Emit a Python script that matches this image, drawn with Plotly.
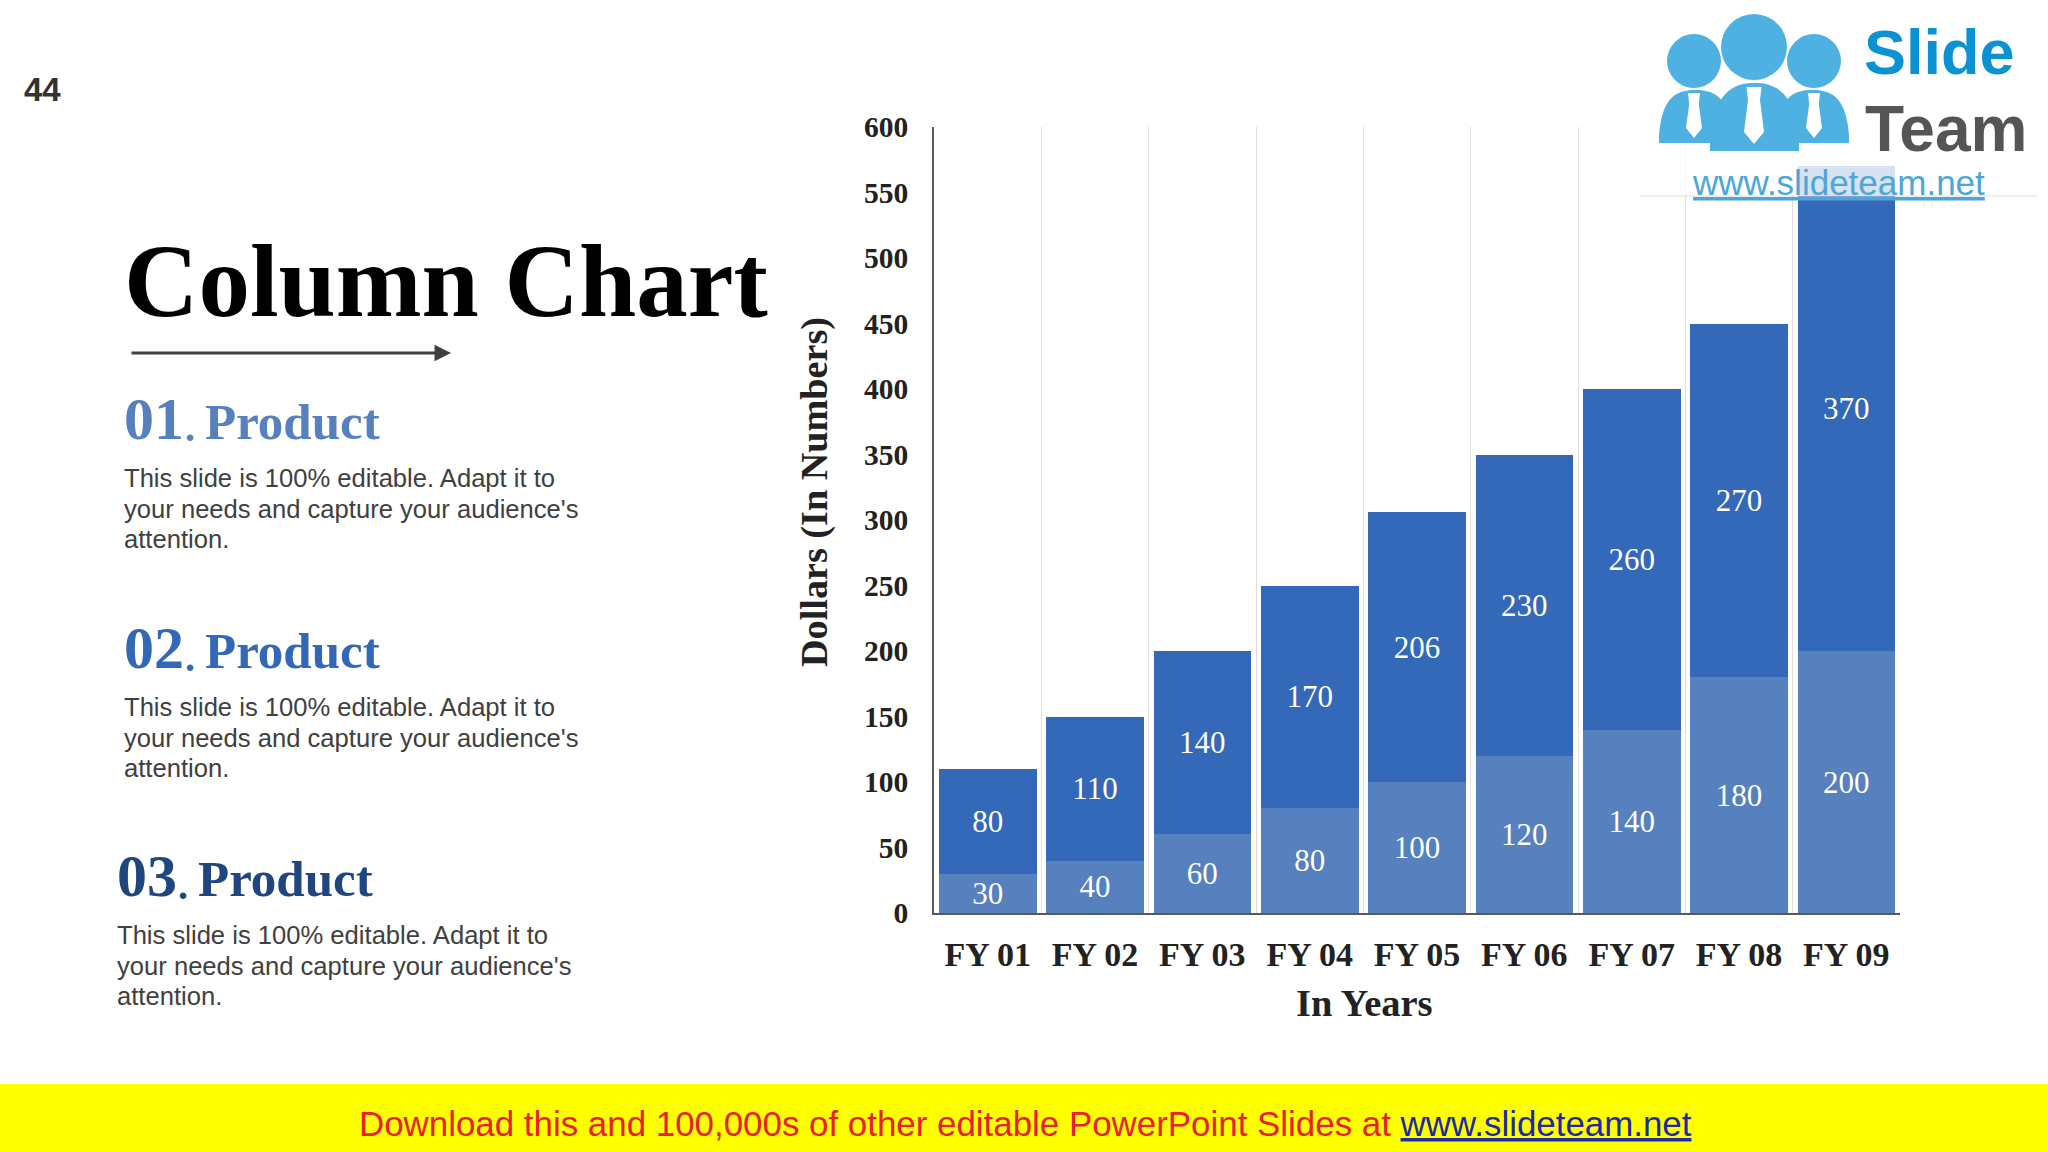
import plotly.graph_objects as go

W, H = 2048, 1152
L, R, T, B = 934, 148, 127, 239
categories = ["FY 01", "FY 02", "FY 03", "FY 04", "FY 05", "FY 06", "FY 07", "FY 08", "FY 09"]
lower_values = [30, 40, 60, 80, 100, 120, 140, 180, 200]
upper_values = [80, 110, 140, 170, 206, 230, 260, 270, 370]
y_ticks = list(range(0, 601, 50))
LOWER = "#5680BE"
UPPER = "#3468B8"
SERIF = "Liberation Serif"
SANS = "Liberation Sans"
BODY_LINES = ["This slide is 100% editable. Adapt it to",
              "your needs and capture your audience's",
              "attention."]

def px(x): return (x - L) / (W - L - R)
def py(y): return (H - B - y) / (H - T - B)

fig = go.Figure()
for vals, col in ((lower_values, LOWER), (upper_values, UPPER)):
    fig.add_bar(x=categories, y=vals, text=vals, marker=dict(color=col, line=dict(width=0)),
                textposition="inside", insidetextanchor="middle", textangle=0,
                constraintext="none", cliponaxis=False, showlegend=False,
                textfont=dict(family=SERIF, size=31, color="white"))

annotations = []
def note(x, y, text, size, color, family=SANS, weight="normal", xanchor="left", align="left", angle=0):
    annotations.append(dict(x=px(x), y=py(y), xref="paper", yref="paper", text=text, showarrow=False,
                            xanchor=xanchor, yanchor="middle", align=align, textangle=angle,
                            borderpad=0, font=dict(family=family, size=size, color=color, weight=weight)))

note(23, 90, "44", 33, "#333333", weight="bold")
note(122.5, 281, "Column Chart", 103, "#000000", SERIF, "bold")
annotations.append(dict(x=px(451), y=py(353), ax=-321, ay=0, xref="paper", yref="paper",
                        axref="pixel", ayref="pixel", text="", showarrow=True, arrowhead=2,
                        arrowsize=1.1, arrowwidth=3, arrowcolor="#404040"))

sections = [("01", "#5680BE", 0, 0), ("02", "#3368B8", 229, 0), ("03", "#204680", 457, -7)]
for num, col, dy, dx in sections:
    note(123 + dx, 419 + dy, num, 60, col, SERIF, "bold")
    note(184 + dx, 428 + dy, ".", 40, col, SERIF, "bold")
    note(204 + dx, 422 + dy, "Product", 51, col, SERIF, "bold")
    for k, line in enumerate(BODY_LINES):
        note(123 + dx, 478 + dy + k * 30.7, line, 25.6, "#404040")

note(1364, 1003, "In Years", 38.5, "#222222", SERIF, "bold", xanchor="center")
note(814, 492, "Dollars (In Numbers)", 38.2, "#222222", SERIF, "bold", xanchor="center", angle=-90)

note(358, 1123,
     '<span style="color:#E8202A">Download this and 100,000s of other editable PowerPoint Slides at </span>'
     '<span style="color:#1C2AA8;text-decoration:underline">www.slideteam.net</span>', 34.9, "#E8202A")

# logo text
note(1863, 52, "Slide", 63, "#0A92D2", weight="bold")
note(1864, 129, "Team", 64, "#555555", weight="bold")
note(1691, 183, '<span style="text-decoration:underline">www.slideteam.net</span>', 35, "#4BA6D9")

shapes = [
    dict(type="rect", xref="paper", yref="paper", x0=px(0), x1=px(W), y0=py(1152), y1=py(1084),
         fillcolor="#FFFF00", line_width=0, layer="above"),
    dict(type="rect", xref="paper", yref="paper", x0=px(1637), x1=px(2037), y0=py(196), y1=py(0),
         fillcolor="rgba(255,255,255,0.8)", line_width=0, layer="above"),
    dict(type="line", xref="paper", yref="paper", x0=px(1640), x1=px(2037), y0=py(196), y1=py(196),
         line=dict(color="#DDDDDD", width=1), layer="above"),
]
BLUE = "#4FB0E2"
def circle(cx, cy, r):
    shapes.append(dict(type="circle", xref="paper", yref="paper", x0=px(cx - r), x1=px(cx + r),
                       y0=py(cy + r), y1=py(cy - r), fillcolor=BLUE, line_width=0, layer="above"))
def path(pts, color):
    d = ""
    for cmd, *c in pts:
        d += cmd + " ".join(f"{px(c[i]):.5f},{py(c[i + 1]):.5f}" for i in range(0, len(c), 2)) + " "
    shapes.append(dict(type="path", xref="paper", yref="paper", path=d + "Z", fillcolor=color,
                       line_width=0, layer="above"))
def body(x0, x1, top, bot):
    c = (x0 + x1) / 2
    path([("M", x0, bot), ("L", x0, bot - 8), ("C", x0 + 3, top + 10, c - 22, top, c, top),
          ("C", c + 22, top, x1 - 3, top + 10, x1, bot - 8), ("L", x1, bot)], BLUE)
def tie(c, top, knot, wide, tip, w1, w2):
    path([("M", c - w1, top), ("L", c + w1, top), ("L", c + w1 * 0.8, knot), ("L", c + w2, wide),
          ("L", c, tip), ("L", c - w2, wide), ("L", c - w1 * 0.8, knot)], "#FFFFFF")

circle(1694, 61, 27)
circle(1814, 61, 27)
body(1659, 1732, 90, 143)
body(1776, 1849, 90, 143)
circle(1754, 47, 33)
body(1710, 1799, 83, 151)
tie(1694, 93, 104, 128, 138, 6, 8)
tie(1814, 93, 104, 128, 138, 6, 8)
tie(1754, 87, 100, 132, 144, 7.5, 10)

fig.update_layout(
    width=W, height=H, autosize=False, barmode="stack", bargap=0.09,
    paper_bgcolor="white", plot_bgcolor="white",
    margin=dict(l=L, r=R, t=T, b=B, pad=0),
    xaxis=dict(type="category", categoryorder="array", categoryarray=categories, tickson="boundaries",
               range=[-0.5, 8.5], showgrid=True, gridcolor="#DEDEDE", gridwidth=1, showline=True,
               linecolor="#595959", linewidth=1.5, ticks="", ticklabelstandoff=10, zeroline=False,
               tickfont=dict(family=SERIF, size=34, color="#222222", weight="bold")),
    yaxis=dict(range=[0, 600], tickvals=y_ticks, ticktext=[str(v) for v in y_ticks], showgrid=False,
               showline=True, linecolor="#595959", linewidth=1.5, ticks="", ticklabelstandoff=18, zeroline=False,
               tickfont=dict(family=SERIF, size=29.5, color="#222222", weight="bold")),
    annotations=annotations, shapes=shapes,
)
fig.write_html("out.html", config={"displayModeBar": False},
               post_script="document.body.style.margin='0';document.documentElement.style.overflow='hidden';")
